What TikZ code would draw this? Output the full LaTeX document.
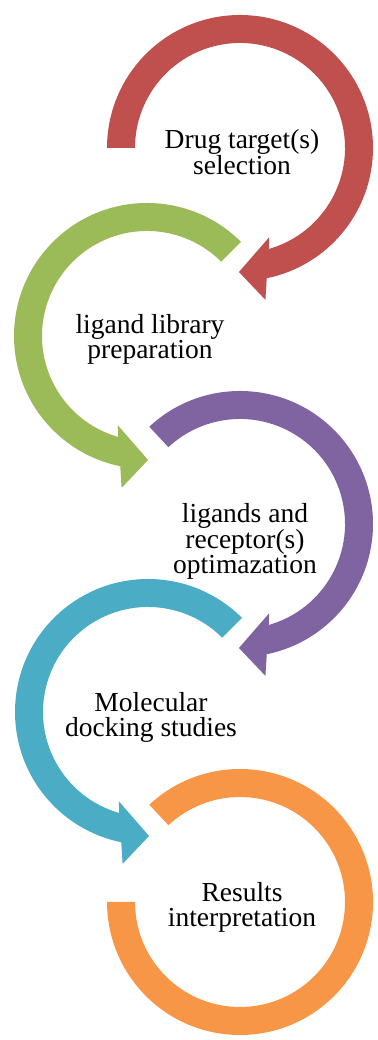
\documentclass[tikz,border=0pt]{standalone}
\usepackage{fontspec}
\setmainfont{Liberation Serif}
\usepackage{tikz}
\definecolor{dred}{RGB}{192,80,77}
\definecolor{dgreen}{RGB}{155,187,89}
\definecolor{dpurple}{RGB}{128,100,162}
\definecolor{dcyan}{RGB}{75,172,198}
\definecolor{dorange}{RGB}{247,150,70}

\begin{document}
\begin{tikzpicture}[x=1pt,y=1pt,
  steptext/.style={align=center,inner sep=0pt,
    font=\fontsize{27.5}{25}\selectfont}]
\useasboundingbox (0,0) rectangle (377,1040);
\coordinate (c1) at (240,892);
\coordinate (c2) at (147,704);
\coordinate (c3) at (240,516);
\coordinate (c4) at (148,328);
\coordinate (c5) at (240,138);
\begin{scope}[shift={(c1)}]
  \fill[dred] (180:133) arc[start angle=180,end angle=-78.4,radius=133]
    -- (-80.5:154) -- (-90.5:124) -- (-72:94) -- (-74:105)
    arc[start angle=-74,end angle=180,radius=105] -- cycle;
\end{scope}
\begin{scope}[shift={(c2)}]
  \fill[dgreen] (45:133) arc[start angle=45,end angle=258.4,radius=133]
    -- (260.5:154) -- (270.5:124) -- (252:94) -- (254:105)
    arc[start angle=254,end angle=45,radius=105] -- cycle;
\end{scope}
\begin{scope}[shift={(c3)}]
  \fill[dpurple] (133:133) arc[start angle=133,end angle=-78.4,radius=133]
    -- (-80.5:154) -- (-90.5:124) -- (-72:94) -- (-74:105)
    arc[start angle=-74,end angle=133,radius=105] -- cycle;
\end{scope}
\begin{scope}[shift={(c4)}]
  \fill[dcyan] (45:133) arc[start angle=45,end angle=258.4,radius=133]
    -- (260.5:154) -- (270.5:124) -- (252:94) -- (254:105)
    arc[start angle=254,end angle=45,radius=105] -- cycle;
\end{scope}
\begin{scope}[shift={(c5)}]
  \fill[dorange] (133:133) arc[start angle=133,end angle=-180,radius=133]
    -- (-180:105) arc[start angle=-180,end angle=133,radius=105] -- cycle;
\end{scope}
\node[steptext] (drug) at (242,887.8) {Drug target(s)\\selection};
\node[steptext] (lib) at (150,700.6) {ligand library\\preparation};
\node[steptext] (opt) at (245,498.4) {ligands and\\receptor(s)\\optimazation};
\node[steptext] (dock) at (151,322.2) {Molecular\\docking studies};
\node[steptext] (res) at (242,132.2) {Results\\interpretation};
\end{tikzpicture}
\end{document}
